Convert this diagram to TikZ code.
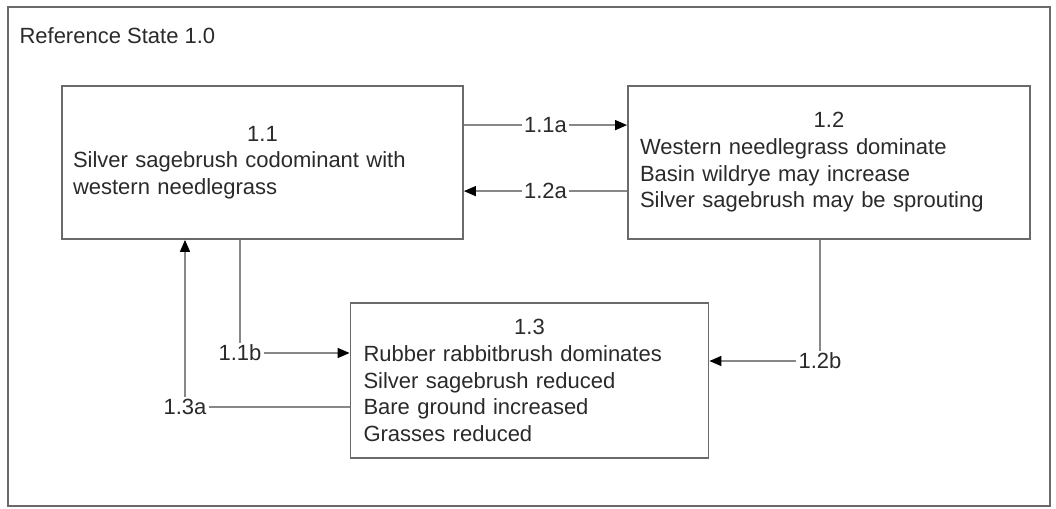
\documentclass[tikz,border=0pt]{standalone}
\usepackage{fontspec}
\setmainfont{Liberation Sans}
\usetikzlibrary{arrows.meta, positioning, calc}
\definecolor{boxgray}{HTML}{6A6A6A}
\definecolor{linegray}{HTML}{888888}
\definecolor{textgray}{HTML}{2A2A2A}

\begin{document}
\begin{tikzpicture}[
    x=1pt, y=-1pt,
    font=\fontsize{22}{26.7}\selectfont,
    text=textgray,
    >={Triangle[length=12pt, width=10pt, color=black]},
    state/.style={draw=boxgray, line width=1.8pt, align=left,
                  inner ysep=0pt, minimum height=153pt},
    link/.style={draw=linegray, line width=1.5pt},
    tag/.style={fill=white, inner sep=2pt}
]
\useasboundingbox (0,0) rectangle (1056,508);

% Frame and title
\draw[draw=boxgray, line width=2pt] (8,7) rectangle (1050,506);
\node[anchor=west] (title) at (16,36) {Reference State 1.0};

% 1) Community phases
\node[state, text width=379pt, inner xsep=11pt] (state11) at (262.5,162.5)
   {\makebox[\hsize]{1.1}\\Silver sagebrush codominant with\\western needlegrass};

\node[state, text width=378pt, inner xsep=12pt] (state12) at (829,162.5)
   {\makebox[\hsize]{1.2}\\Western needlegrass dominate\\Basin wildrye may increase\\Silver sagebrush may be sprouting};

\node[state, text width=332pt, inner xsep=13pt, minimum height=155pt] (state13) at (529.5,380.5)
   {\makebox[\hsize]{1.3}\\Rubber rabbitbrush dominates\\Silver sagebrush reduced\\Bare ground increased\\Grasses reduced};

% 2) Pathways between 1.1 and 1.2
\draw[link, ->] ($(state11.north east)+(0,40)$) -- ($(state12.north west)+(0,40)$)
      node[midway, tag] {1.1a};
\draw[link, ->] ($(state12.north west)+(0,106)$) -- ($(state11.north east)+(0,106)$)
      node[midway, tag] {1.2a};

% 3) Pathways into and out of 1.3
\node[tag] (tag11b) at (240,353) {1.1b};
\draw[link] (state11.south -| tag11b) -- (tag11b);
\draw[link, ->] (tag11b) -- (state13.west |- tag11b);

\node[tag] (tag13a) at (185,407) {1.3a};
\draw[link] (state13.west |- tag13a) -- (tag13a);
\draw[link, ->] (tag13a) -- (state11.south -| tag13a);

\node[tag] (tag12b) at (820,361) {1.2b};
\draw[link] (state12.south -| tag12b) -- (tag12b);
\draw[link, ->] (tag12b) -- (state13.east |- tag12b);

\end{tikzpicture}
\end{document}
